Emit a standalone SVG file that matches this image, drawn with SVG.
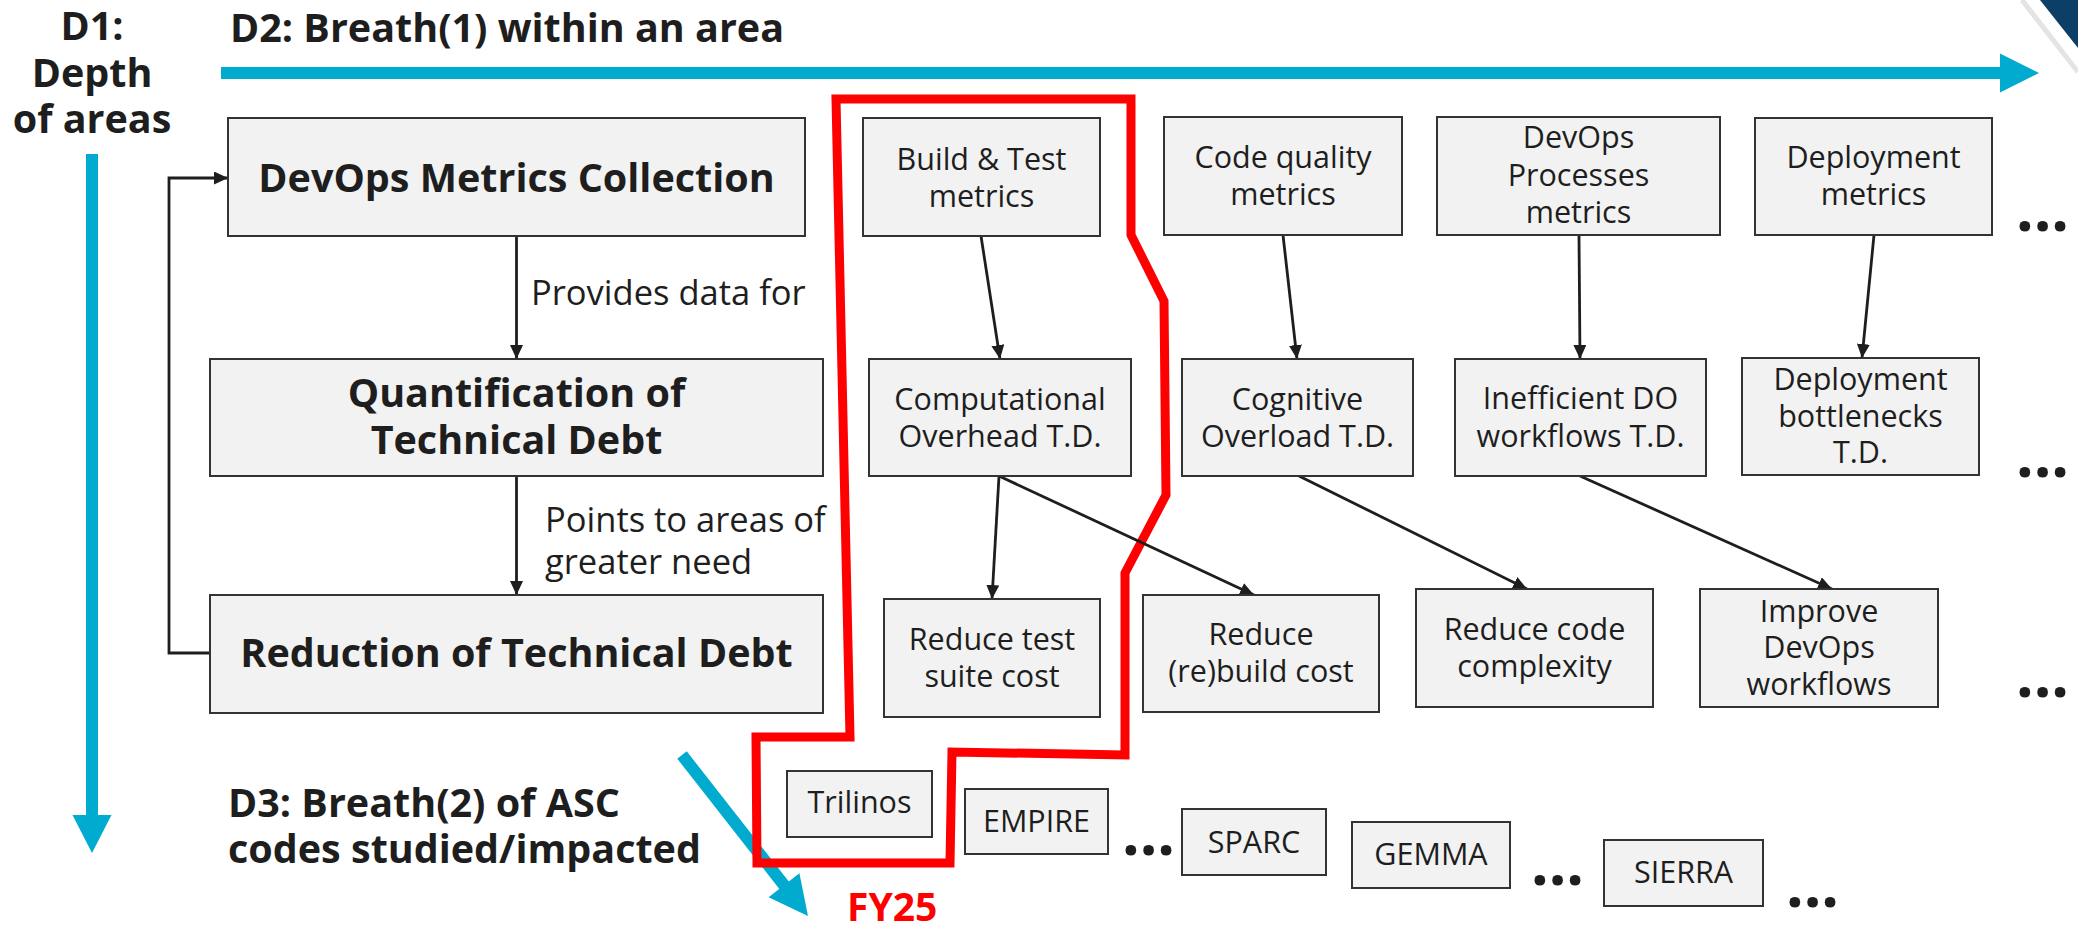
<svg xmlns="http://www.w3.org/2000/svg" width="2078" height="925" viewBox="0 0 2078 925">
<style>
.box{fill:#F2F2F2;stroke:#333;stroke-width:2}
.t{font-family:"Open Sans","Noto Sans",sans-serif;font-size:30.5px;fill:#1e1e1e;text-anchor:middle}
.b{font-family:"Open Sans","Noto Sans",sans-serif;font-size:39.5px;font-weight:bold;fill:#1e1e1e}
.c{text-anchor:middle}
.lbl{font-family:"Open Sans","Noto Sans",sans-serif;font-size:34.5px;fill:#1e1e1e}
.dots{font-family:"Open Sans","Noto Sans",sans-serif;font-size:62px;font-weight:bold;fill:#1e1e1e}
.conn{stroke:#1e1e1e;stroke-width:2.8;fill:none;marker-end:url(#ah)}
.teal{stroke:#00ABCF;stroke-width:12;fill:none}
.tealh{fill:#00ABCF}
</style>
<defs>
<marker id="ah" markerUnits="userSpaceOnUse" markerWidth="14" markerHeight="13" refX="14" refY="6.5" orient="auto">
<path d="M0,0 L14,6.5 L0,13 z" fill="#1e1e1e"/>
</marker>
</defs>
<rect width="2078" height="925" fill="#fff"/>
<g id="corner">
<line x1="2022" y1="0" x2="2078" y2="72" stroke="#e4e4e4" stroke-width="5"/>
<polygon points="2040,0 2078,0 2078,48" fill="#0d3f66"/>
</g>
<g id="axes">
<line class="teal" x1="221" y1="73" x2="2002" y2="73"/>
<polygon class="tealh" points="2000,53.5 2039,73 2000,92.5"/>
<line class="teal" x1="92" y1="154" x2="92" y2="817"/>
<polygon class="tealh" points="72.5,815 92,853 111.5,815"/>
<line class="teal" x1="682" y1="755" x2="787" y2="889"/>
<polygon class="tealh" points="768.6,897.3 808,916 799.4,873.3"/>
<text class="b c" x="92" y="40">D1:</text>
<text class="b c" x="92" y="87">Depth</text>
<text class="b c" x="92" y="133">of areas</text>
<text class="b" x="230" y="42">D2: Breath(1) within an area</text>
<text class="b" x="228" y="817">D3: Breath(2) of ASC</text>
<text class="b" x="228" y="863">codes studied/impacted</text>
</g>
<g id="fy25">
<polygon points="836,99 1131,99 1131,235 1164,301 1166,495 1125,573 1125,755 952,752 950,863 757,863 756,737 850,737" fill="none" stroke="#FF0000" stroke-width="9" stroke-linejoin="miter"/>
<text class="b" x="847" y="921" style="fill:#FF0000;font-size:39px">FY25</text>
</g>
<g id="connectors">
<line class="conn" x1="516.5" y1="236" x2="516.5" y2="359"/>
<line class="conn" x1="516.5" y1="476" x2="516.5" y2="595"/>
<path class="conn" d="M210,653 H169 V178 H228"/>
<line class="conn" x1="981" y1="236" x2="1000" y2="359"/>
<line class="conn" x1="1283" y1="235" x2="1297" y2="359"/>
<line class="conn" x1="1579" y1="235" x2="1580" y2="359"/>
<line class="conn" x1="1874" y1="235" x2="1862" y2="358"/>
<line class="conn" x1="999" y1="476" x2="992" y2="599"/>
<line class="conn" x1="999" y1="476" x2="1254" y2="595"/>
<line class="conn" x1="1299" y1="476" x2="1527" y2="589"/>
<line class="conn" x1="1580" y1="476" x2="1832" y2="589"/>
<text class="lbl" x="531" y="305">Provides data for</text>
<text class="lbl" x="545" y="532">Points to areas of</text>
<text class="lbl" x="545" y="574">greater need</text>
</g>
<g id="n_collect"><rect class="box" x="228" y="118" width="577" height="118"/><text class="b c" x="516.5" y="192">DevOps Metrics Collection</text></g>
<g id="n_quant"><rect class="box" x="210" y="359" width="613" height="117"/><text class="b c" x="516.5" y="407">Quantification of</text><text class="b c" x="516.5" y="454">Technical Debt</text></g>
<g id="n_reduce"><rect class="box" x="210" y="595" width="613" height="118"/><text class="b c" x="516.5" y="667">Reduction of Technical Debt</text></g>
<g id="n_bt"><rect class="box" x="863" y="118" width="237" height="118"/><text class="t" x="981.5" y="170">Build &amp; Test</text><text class="t" x="981.5" y="207">metrics</text></g>
<g id="n_cq"><rect class="box" x="1164" y="117" width="238" height="118"/><text class="t" x="1283" y="168">Code quality</text><text class="t" x="1283" y="205">metrics</text></g>
<g id="n_dp"><rect class="box" x="1437" y="117" width="283" height="118"/><text class="t" x="1578.5" y="148">DevOps</text><text class="t" x="1578.5" y="186">Processes</text><text class="t" x="1578.5" y="223">metrics</text></g>
<g id="n_dm"><rect class="box" x="1755" y="118" width="237" height="117"/><text class="t" x="1873.5" y="168">Deployment</text><text class="t" x="1873.5" y="205">metrics</text></g>
<g id="n_co"><rect class="box" x="869" y="359" width="262" height="117"/><text class="t" x="1000" y="410">Computational</text><text class="t" x="1000" y="447">Overhead T.D.</text></g>
<g id="n_cog"><rect class="box" x="1182" y="359" width="231" height="117"/><text class="t" x="1297.5" y="410">Cognitive</text><text class="t" x="1297.5" y="447">Overload T.D.</text></g>
<g id="n_ineff"><rect class="box" x="1455" y="359" width="251" height="117"/><text class="t" x="1580.5" y="409">Inefficient DO</text><text class="t" x="1580.5" y="447">workflows T.D.</text></g>
<g id="n_dbt"><rect class="box" x="1742" y="358" width="237" height="117"/><text class="t" x="1860.5" y="390">Deployment</text><text class="t" x="1860.5" y="427">bottlenecks</text><text class="t" x="1860.5" y="463">T.D.</text></g>
<g id="n_rts"><rect class="box" x="884" y="599" width="216" height="118"/><text class="t" x="992" y="650">Reduce test</text><text class="t" x="992" y="687">suite cost</text></g>
<g id="n_rrc"><rect class="box" x="1143" y="595" width="236" height="117"/><text class="t" x="1261" y="645">Reduce</text><text class="t" x="1261" y="682">(re)build cost</text></g>
<g id="n_rcc"><rect class="box" x="1416" y="589" width="237" height="118"/><text class="t" x="1534.5" y="640">Reduce code</text><text class="t" x="1534.5" y="677">complexity</text></g>
<g id="n_idw"><rect class="box" x="1700" y="589" width="238" height="118"/><text class="t" x="1819" y="622">Improve</text><text class="t" x="1819" y="658">DevOps</text><text class="t" x="1819" y="695">workflows</text></g>
<g id="n_tri"><rect class="box" x="787" y="771" width="145" height="66"/><text class="t" x="859.5" y="813">Trilinos</text></g>
<g id="n_emp"><rect class="box" x="965" y="789" width="143" height="65"/><text class="t" x="1036.5" y="832">EMPIRE</text></g>
<g id="n_sparc"><rect class="box" x="1182" y="809" width="144" height="66"/><text class="t" x="1254" y="853">SPARC</text></g>
<g id="n_gemma"><rect class="box" x="1352" y="822" width="158" height="66"/><text class="t" x="1431" y="865">GEMMA</text></g>
<g id="n_sierra"><rect class="box" x="1604" y="840" width="159" height="66"/><text class="t" x="1683.5" y="883">SIERRA</text></g>
<g id="ellipses">
<text class="dots" x="2016" y="231">...</text>
<text class="dots" x="2016" y="477">...</text>
<text class="dots" x="2016" y="697">...</text>
<text class="dots" x="1122" y="855">...</text>
<text class="dots" x="1531" y="885">...</text>
<text class="dots" x="1786" y="907">...</text>
</g>
</svg>
